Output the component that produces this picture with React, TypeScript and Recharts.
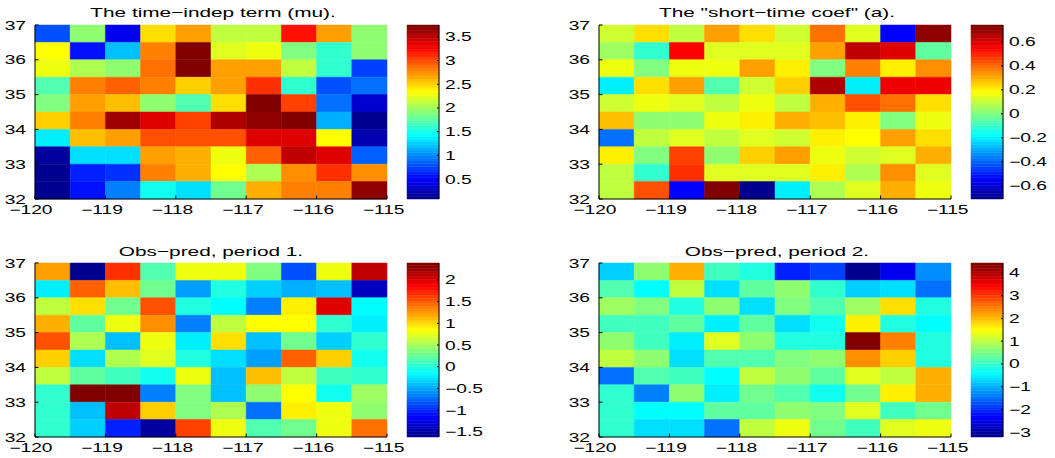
import { ComposedChart, XAxis, YAxis, ReferenceArea, Scatter } from "recharts";

// cell edges: columns west -> east, rows listed north -> south
const lonEdges = [-120, -119.5, -119, -118.5, -118, -117.5, -117, -116.5, -116, -115.5];
const latEdges = [36.5, 36, 35.5, 35, 34.5, 34, 33.5, 33, 32.5, 32];
const lonTicks = [-120, -119, -118, -117, -116, -115];
const latTicks = [32, 33, 34, 35, 36, 37];

const muRows = [
  [0.81, 1.95, 0.48, 2.47, 2.69, 2.1, 2.1, 3.2, 2.67, 1.95],
  [2.37, 0.54, 1.18, 2.83, 3.71, 2.25, 2.28, 1.88, 1.58, 1.95],
  [2.28, 2.06, 1.95, 2.87, 3.71, 2.69, 2.67, 2.1, 1.58, 0.72],
  [1.73, 2.8, 2.94, 2.81, 2.54, 2.69, 3.11, 1.58, 0.78, 0.91],
  [1.88, 2.69, 2.56, 1.92, 1.73, 2.45, 3.73, 3.05, 0.91, 0.31],
  [2.5, 2.8, 3.6, 3.35, 3.02, 3.57, 3.66, 3.75, 1.14, 0.08],
  [1.36, 2.58, 2.67, 2.98, 2.98, 2.98, 3.36, 3.36, 2.32, 0.25],
  [0.17, 1.33, 1.33, 2.69, 2.61, 2.26, 2.92, 3.47, 3.36, 0.85],
  [0.12, 0.63, 0.67, 2.81, 2.61, 2.37, 2.06, 2.72, 3.11, 2.74],
  [0.12, 0.59, 0.96, 1.46, 1.33, 1.82, 2.61, 2.83, 2.83, 3.64],
];

const aRows = [
  [0.12, 0.24, 0.09, 0.32, 0.24, 0.12, 0.38, 0.15, -0.53, 0.7],
  [0.05, -0.12, 0.54, 0.15, 0.15, 0.15, 0.32, 0.64, 0.6, -0.04],
  [0.16, 0.0, 0.17, 0.17, 0.31, 0.2, 0.0, 0.37, 0.2, 0.34],
  [-0.21, 0.22, 0.31, -0.06, 0.12, 0.25, 0.66, -0.21, 0.56, 0.57],
  [0.12, 0.17, 0.15, 0.1, 0.17, 0.1, 0.3, 0.44, 0.38, 0.23],
  [0.28, 0.03, 0.03, 0.16, 0.2, 0.3, 0.28, 0.2, 0.0, 0.17],
  [-0.38, 0.09, 0.13, 0.09, 0.15, 0.12, 0.2, 0.18, 0.33, 0.24],
  [0.2, 0.0, 0.46, 0.03, 0.25, 0.32, 0.17, 0.12, 0.15, 0.29],
  [0.1, -0.12, 0.49, 0.15, 0.15, 0.15, 0.2, 0.07, 0.34, 0.15],
  [0.1, 0.44, -0.53, 0.74, -0.71, -0.21, 0.07, 0.13, 0.29, 0.17],
];

const period1Rows = [
  [1.21, -1.62, 1.69, 0.18, 0.79, 0.79, 0.34, -0.82, 0.77, 2.09],
  [-0.22, 1.49, 1.09, 0.26, -0.52, -0.02, -0.34, -0.46, -0.38, -1.37],
  [0.63, 1.01, 0.28, 1.57, -0.02, -0.12, -0.66, 0.89, 2.01, -0.12],
  [1.19, 0.22, 0.77, 1.29, -0.62, 0.59, 0.83, 0.83, 0.02, -0.24],
  [1.55, 0.55, -0.38, 0.79, -0.2, 1.01, -0.4, 0.28, -0.34, 0.02],
  [1.03, -0.26, 0.55, 0.75, 0.0, -0.26, -0.52, 1.47, 1.03, -0.06],
  [0.63, 0.22, 0.08, -0.06, 0.79, -0.38, 1.09, 0.63, 0.08, 0.02],
  [0.02, 2.39, 2.35, -0.62, 0.34, -0.4, 0.43, 0.83, -0.06, 0.49],
  [0.02, -0.4, 2.09, 1.03, 0.34, 0.55, -0.72, 0.89, 0.77, 0.43],
  [0.02, -0.32, -1.02, -1.52, 1.59, 0.81, 0.18, 0.28, 0.81, 1.39],
];

const period2Rows = [
  [-0.77, 0.61, 2.07, 0.13, -0.19, -2.07, -1.88, -3.22, -2.49, -1.21],
  [0.23, -0.35, 1.07, -0.62, 0.3, 0.61, -0.08, -0.73, -0.62, -1.46],
  [0.8, 0.53, -0.12, 0.61, -0.69, 0.53, 0.23, 0.8, 1.72, -0.12],
  [0.13, 0.13, 0.3, -0.58, 0.3, -0.69, -0.23, 1.57, -0.19, -0.46],
  [0.61, 0.04, -0.58, 1.22, 0.61, -0.12, -0.12, 4.44, 2.45, -0.16],
  [0.99, 0.61, -0.62, 0.23, 0.23, 0.53, 0.69, 2.33, 1.84, -0.16],
  [-1.5, 0.23, 0.13, -0.35, 1.03, 0.69, 0.3, 1.3, 0.99, 2.07],
  [-0.08, -1.38, 0.69, -0.5, 0.42, 0.23, -0.23, 0.42, 1.57, 2.07],
  [-0.08, -0.35, -0.35, 0.3, 0.3, 0.61, 0.53, 1.22, 0.13, 0.42],
  [-0.08, -0.62, -0.62, -1.5, 1.07, 1.34, 0.42, 0.13, 1.22, 1.34],
];

const muTicks = [0.5, 1, 1.5, 2, 2.5, 3, 3.5];
const aTicks = [-0.6, -0.4, -0.2, 0, 0.2, 0.4, 0.6];
const period1Ticks = [-1.5, -1, -0.5, 0, 0.5, 1, 1.5, 2];
const period2Ticks = [-3, -2, -1, 0, 1, 2, 3, 4];

const FONT = "'Liberation Sans', Arial, Helvetica, sans-serif";
const SX = 1.6; // text is drawn wide
const NCOL = 64;

// matlab-style jet(64)
const jetU = (k: number) => (k < 1 || k > 47 ? 0 : k <= 16 ? k / 16 : k <= 31 ? 1 : (48 - k) / 16);
const jet = (i: number) => {
  const c = [jetU(i - 24), jetU(i - 8), jetU(i + 8)].map((v) => Math.round(v * 255));
  return `rgb(${c[0]},${c[1]},${c[2]})`;
};
const colorFor = (v: number, lo: number, hi: number) =>
  jet(Math.min(NCOL, Math.max(1, Math.floor(((v - lo) / (hi - lo)) * NCOL) + 1)));

const fmt = (v: number) => String(v).replace("-", "\u2212");

const txt = (x: number, y: number, anchor: string, s: string, size = 12) => (
  <text
    transform={`translate(${x},${y}) scale(${SX},1)`}
    textAnchor={anchor}
    fontSize={size}
    fontFamily={FONT}
    fill="#000"
  >
    {s}
  </text>
);

const BottomTick = ({ x, y, payload }: any) => (
  <g>
    <line x1={x} x2={x} y1={y} y2={y - 3.5} stroke="#000" />
    {txt(x + 17.5, y + 15, "end", fmt(payload.value))}
  </g>
);
const TopTick = ({ x, y }: any) => <line x1={x} x2={x} y1={y} y2={y + 3.5} stroke="#000" />;
const LeftTick = ({ x, y, payload }: any) => (
  <g>
    <line x1={x} x2={x + 3.5} y1={y} y2={y} stroke="#000" />
    {txt(x - 9, y + 4.5, "end", fmt(payload.value))}
  </g>
);
const RightTick = ({ x, y }: any) => <line x1={x} x2={x - 3.5} y1={y} y2={y} stroke="#000" />;
const BarLeftTick = ({ x, y }: any) => <line x1={x} x2={x + 2} y1={y} y2={y} stroke="#000" />;
const BarRightTick = ({ x, y, payload }: any) => (
  <g>
    <line x1={x} x2={x - 2} y1={y} y2={y} stroke="#000" />
    {txt(x + 6, y + 4.5, "start", fmt(payload.value))}
  </g>
);

const axisLine = { stroke: "#000", strokeWidth: 1 };

type PanelProps = { left: number; top: number; rows: number[][]; ticks: number[] };

function HeatPanel({ left, top, rows, ticks }: PanelProps) {
  const all = rows.flat();
  const lo = Math.min(...all);
  const hi = Math.max(...all);
  const cells = rows.flatMap((row, r) =>
    row.map((v, c) => ({ lon: lonEdges[c], lat: latEdges[r], v, x: lonEdges[c] + 0.25, y: latEdges[r] + 0.25 }))
  );
  const step = (hi - lo) / NCOL;
  const bands = Array.from({ length: NCOL }, (_, i) => i);

  return (
    <>
      <div style={{ position: "absolute", left, top }}>
        <ComposedChart width={420} height={230} margin={{ top: 25, right: 33, bottom: 0, left: 0 }}>
          <XAxis
            type="number"
            dataKey="x"
            domain={[-120, -115]}
            ticks={lonTicks}
            interval={0}
            height={31}
            tickSize={0}
            tickMargin={0}
            tickLine={false}
            axisLine={axisLine}
            tick={<BottomTick />}
            allowDataOverflow
          />
          <XAxis
            xAxisId="top"
            orientation="top"
            type="number"
            domain={[-120, -115]}
            ticks={lonTicks}
            interval={0}
            height={0}
            tickSize={0}
            tickMargin={0}
            tickLine={false}
            axisLine={axisLine}
            tick={<TopTick />}
            allowDataOverflow
          />
          <YAxis
            type="number"
            dataKey="y"
            domain={[32, 37]}
            ticks={latTicks}
            interval={0}
            width={35}
            tickSize={0}
            tickMargin={0}
            tickLine={false}
            axisLine={axisLine}
            tick={<LeftTick />}
            allowDataOverflow
          />
          <YAxis
            yAxisId="right"
            orientation="right"
            type="number"
            domain={[32, 37]}
            ticks={latTicks}
            interval={0}
            width={0}
            tickSize={0}
            tickMargin={0}
            tickLine={false}
            axisLine={axisLine}
            tick={<RightTick />}
            allowDataOverflow
          />
          {cells.map((d, i) => (
            <ReferenceArea
              key={i}
              x1={d.lon}
              x2={d.lon + 0.5}
              y1={d.lat}
              y2={d.lat + 0.5}
              fill={colorFor(d.v, lo, hi)}
              fillOpacity={1}
              stroke={colorFor(d.v, lo, hi)}
              strokeWidth={0.5}
            />
          ))}
          <Scatter data={cells} isAnimationActive={false} shape={() => <g />} />
        </ComposedChart>
      </div>
      <div style={{ position: "absolute", left: left + 400, top }}>
        <ComposedChart width={91} height={230} margin={{ top: 25, right: 16, bottom: 31, left: 7 }}>
          <XAxis type="number" dataKey="x" domain={[0, 1]} height={0} tick={false} tickLine={false} axisLine={axisLine} />
          <XAxis xAxisId="top" orientation="top" type="number" domain={[0, 1]} height={0} tick={false} tickLine={false} axisLine={axisLine} />
          <YAxis
            type="number"
            dataKey="y"
            domain={[lo, hi]}
            ticks={ticks}
            interval={0}
            width={0}
            tickSize={0}
            tickMargin={0}
            tickLine={false}
            axisLine={axisLine}
            tick={<BarLeftTick />}
            allowDataOverflow
          />
          <YAxis
            yAxisId="right"
            orientation="right"
            type="number"
            domain={[lo, hi]}
            ticks={ticks}
            interval={0}
            width={36}
            tickSize={0}
            tickMargin={0}
            tickLine={false}
            axisLine={axisLine}
            tick={<BarRightTick />}
            allowDataOverflow
          />
          {bands.map((i) => (
            <ReferenceArea
              key={i}
              x1={0}
              x2={1}
              y1={lo + i * step}
              y2={lo + (i + 1) * step}
              fill={jet(i + 1)}
              fillOpacity={1}
              stroke={jet(i + 1)}
              strokeWidth={0.5}
            />
          ))}
          <Scatter data={[{ x: 0.5, y: lo }]} isAnimationActive={false} shape={() => <g />} />
        </ComposedChart>
      </div>
    </>
  );
}

const titles = [
  { x: 213, y: 17, s: "The time\u2212indep term (mu)." },
  { x: 777, y: 17, s: "The \"short\u2212time coef\" (a)." },
  { x: 211, y: 256, s: "Obs\u2212pred, period 1." },
  { x: 777, y: 256, s: "Obs\u2212pred, period 2." },
];

export default function App() {
  return (
    <div
      style={{
        position: "absolute",
        left: 0,
        top: 0,
        width: 1055,
        height: 458,
        overflow: "hidden",
        background: "#fff",
      }}
    >
      <HeatPanel left={0} top={0} rows={muRows} ticks={muTicks} />
      <HeatPanel left={564} top={0} rows={aRows} ticks={aTicks} />
      <HeatPanel left={0} top={238} rows={period1Rows} ticks={period1Ticks} />
      <HeatPanel left={564} top={238} rows={period2Rows} ticks={period2Ticks} />
      <svg width={1055} height={458} style={{ position: "absolute", left: 0, top: 0, pointerEvents: "none" }}>
        {titles.map((t) => (
          <g key={t.s}>{txt(t.x, t.y, "middle", t.s, 13)}</g>
        ))}
      </svg>
    </div>
  );
}
